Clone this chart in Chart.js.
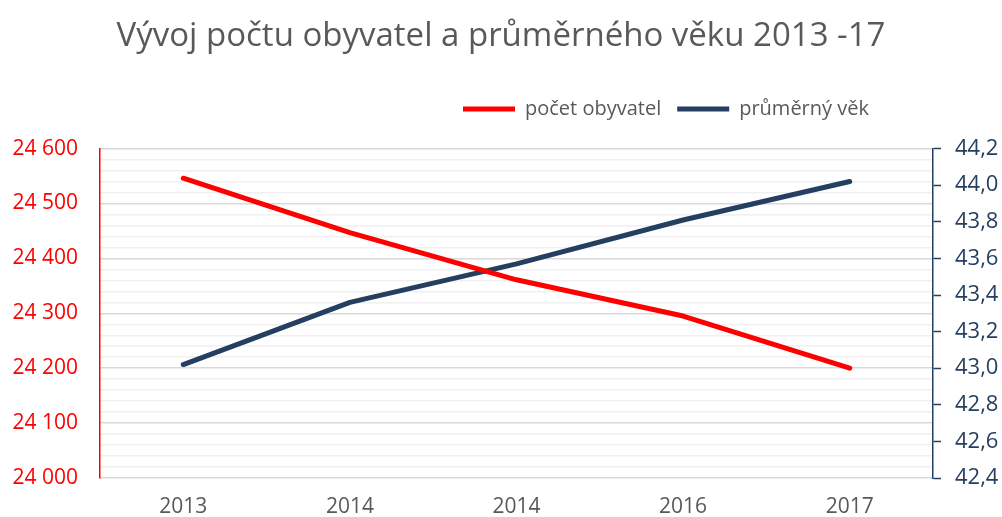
<!DOCTYPE html>
<html>
<head>
<meta charset="utf-8">
<script src="https://cdn.jsdelivr.net/npm/chart.js@4"></script>
<style>
  html, body { margin: 0; padding: 0; background: #ffffff; }
  #wrap { width: 1002px; height: 517px; }
</style>
</head>
<body>
<div id="wrap"><canvas id="chart"></canvas></div>
<script>
// Data
const years = ['2013', '2014', '2014', '2016', '2017'];
const population = [24546, 24447, 24361, 24295, 24200];
const avgAge = [43.02, 43.36, 43.57, 43.81, 44.02];
const popTicks = [24000, 24100, 24200, 24300, 24400, 24500, 24600];
const ageTicks = [42.4, 42.6, 42.8, 43.0, 43.2, 43.4, 43.6, 43.8, 44.0, 44.2];

const RED = '#ff0000';
const NAVY = '#243f60';
const GREY = '#595959';
const FONT = "'Open Sans', sans-serif";

// put the legend where the reference has it (right end ~868, middle ~107)
const legendShift = {
  id: 'legendShift',
  afterLayout(chart) {
    const lg = chart.legend;
    const h = lg.bottom - lg.top;
    lg.right = 885;
    lg.top = 83;
    lg.bottom = 83 + h;
    lg.adjustHitBoxes();
  }
};

new Chart(document.getElementById('chart').getContext('2d'), {
  type: 'line',
  data: {
    labels: years,
    datasets: [{
      label: 'počet obyvatel',
      data: population,
      yAxisID: 'y',
      borderColor: RED,
      backgroundColor: RED,
      borderWidth: 5,
      borderCapStyle: 'round',
      borderJoinStyle: 'round',
      pointRadius: 0,
      tension: 0
    }, {
      label: 'průměrný věk',
      data: avgAge,
      yAxisID: 'y1',
      borderColor: NAVY,
      backgroundColor: NAVY,
      borderWidth: 5,
      borderCapStyle: 'round',
      borderJoinStyle: 'round',
      pointRadius: 0,
      tension: 0
    }]
  },
  plugins: [legendShift],
  options: {
    responsive: true,
    maintainAspectRatio: false,
    animation: false,
    layout: { padding: 0 },
    plugins: {
      title: {
        display: true,
        text: 'Vývoj počtu obyvatel a průměrného věku 2013 -17',
        color: GREY,
        font: { family: FONT, size: 33, weight: 'normal', lineHeight: 1.2 },
        padding: { top: 17, bottom: 46 }
      },
      legend: {
        display: true,
        align: 'end',
        labels: {
          color: GREY,
          font: { family: FONT, size: 20 },
          usePointStyle: true,
          pointStyle: 'line',
          pointStyleWidth: 52,
          boxHeight: 20,
          padding: 16
        }
      },
      tooltip: { enabled: false }
    },
    scales: {
      x: {
        offset: true,
        grid: { display: false, drawTicks: false },
        border: { display: false },
        ticks: {
          color: GREY,
          font: { family: FONT, size: 21 },
          padding: 16
        },
        afterFit(axis) { axis.height = 39; }
      },
      y: {
        position: 'left',
        min: popTicks[0],
        max: popTicks[popTicks.length - 1],
        afterBuildTicks(axis) {
          const t = [];
          for (let i = 0; i < popTicks.length - 1; i++) {
            for (let k = 0; k < 5; k++) t.push({ value: popTicks[i] + (popTicks[i + 1] - popTicks[i]) * k / 5 });
          }
          t.push({ value: popTicks[popTicks.length - 1] });
          axis.ticks = t;
        },
        grid: {
          drawTicks: false,
          lineWidth: 1.5,
          color: (ctx) => (ctx.tick && popTicks.includes(ctx.tick.value)) ? '#d9d9d9' : '#f0f0f0'
        },
        border: { display: true, color: RED, width: 1.5 },
        ticks: {
          color: RED,
          font: { family: FONT, size: 21 },
          padding: 22,
          autoSkip: false,
          callback: (v) => popTicks.includes(v) ? String(v).replace(/(\d{2})(\d{3})$/, '$1 $2') : ''
        },
        afterFit(axis) { axis.width = 100; }
      },
      y1: {
        position: 'right',
        min: ageTicks[0],
        max: ageTicks[ageTicks.length - 1],
        afterBuildTicks(axis) {
          axis.ticks = ageTicks.map((v) => ({ value: v }));
        },
        grid: {
          drawOnChartArea: false,
          drawTicks: true,
          tickLength: 8,
          tickWidth: 1.5,
          tickColor: NAVY
        },
        border: { display: true, color: NAVY, width: 1.5 },
        ticks: {
          color: NAVY,
          font: { family: FONT, size: 22 },
          padding: 14,
          callback: (v) => Number(v).toFixed(1).replace('.', ',')
        },
        afterFit(axis) { axis.width = 69; }
      }
    }
  }
});
</script>
</body>
</html>
